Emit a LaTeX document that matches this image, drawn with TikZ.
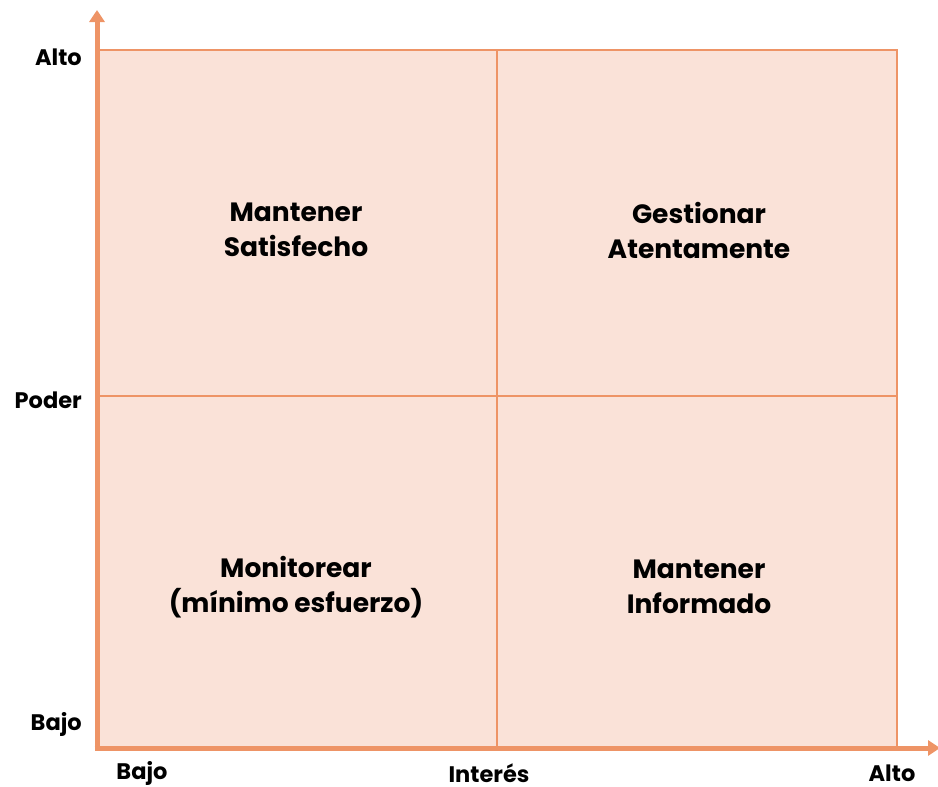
\documentclass[tikz,border=0pt]{standalone}
\usepackage{fontspec}
\setmainfont{Poppins}
\usetikzlibrary{arrows.meta}
\definecolor{axis}{HTML}{EE9466}
\definecolor{cell}{HTML}{FAE2D8}
\begin{document}
\begin{tikzpicture}[x=1pt,y=-1pt,
  quad/.style={align=center,font=\fontsize{26.5}{35}\selectfont\bfseries,text=black,inner sep=0pt},
  axlabel/.style={font=\fontsize{22.5}{25}\selectfont\bfseries,text=black,inner sep=0pt},
  grid line/.style={draw=axis,line width=2pt},
  axis line/.style={draw=axis,line width=5pt,-{Triangle[width=15pt,length=12pt]}}]
\useasboundingbox (0,0) rectangle (938,787);
\fill[cell] (97,50) rectangle (897,748);
\draw[grid line] (97,50) -- (897,50) -- (897,748);
\draw[grid line] (497,50) -- (497,748);
\draw[grid line] (97,396) -- (897,396);
\coordinate (o) at (97,748);
\coordinate (ytip) at (97,10);
\coordinate (xtip) at (940,748);
\draw[axis line] ([yshift=2.5pt]o) -- (ytip);
\draw[axis line] ([xshift=-2.5pt]o) -- (xtip);
\node[quad] (q1) at (296,230) {Mantener\\Satisfecho};
\node[quad] (q2) at (699,230) {Gestionar\\Atentamente};
\node[quad] (q3) at (296,587) {Monitorear\\(mínimo esfuerzo)};
\node[quad] (q4) at (699,587) {Mantener\\Informado};
\node[axlabel,anchor=east] (ya) at (82,57) {Alto};
\node[axlabel,anchor=east] (yp) at (82,400) {Poder};
\node[axlabel,anchor=east] (yb) at (82,724) {Bajo};
\node[axlabel] (xb) at (142,773) {Bajo};
\node[axlabel] (xi) at (489,773) {Interés};
\node[axlabel] (xa) at (892,773) {Alto};
\end{tikzpicture}
\end{document}
